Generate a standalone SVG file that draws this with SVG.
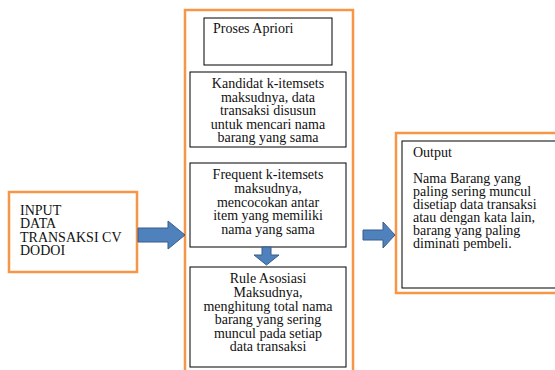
<svg xmlns="http://www.w3.org/2000/svg" width="555" height="370" viewBox="0 0 555 370">
<style>
.orange{fill:#fff;stroke:#F79646;stroke-width:2.5}
.box{fill:#fff;stroke:#000;stroke-width:1}
.t{font-family:"Liberation Serif","Times New Roman",serif;font-size:14px;fill:#111}
.c{text-anchor:middle}
.arrow{fill:#4F81BD;stroke:#385D8A;stroke-width:1}
</style>
<rect width="555" height="370" fill="#fff"/>
<g id="input">
<rect class="orange" x="9" y="192" width="128" height="80"/>
<text class="t" x="20" y="215">INPUT</text>
<text class="t" x="20" y="228">DATA</text>
<text class="t" x="20" y="242">TRANSAKSI CV</text>
<text class="t" x="20" y="255">DODOI</text>
</g>
<g id="proses">
<rect class="orange" x="185" y="10" width="168" height="375"/>
</g>
<g id="apriori">
<rect class="box" x="204" y="18" width="128" height="47"/>
<text class="t" x="213" y="33">Proses Apriori</text>
</g>
<g id="kandidat">
<rect class="box" x="190" y="72" width="156" height="75"/>
<text class="t c" x="268" y="88">Kandidat k-itemsets</text>
<text class="t c" x="268" y="102">maksudnya, data</text>
<text class="t c" x="268" y="115">transaksi disusun</text>
<text class="t c" x="268" y="129">untuk mencari nama</text>
<text class="t c" x="268" y="142">barang yang sama</text>
</g>
<g id="frequent">
<rect class="box" x="190" y="163" width="156" height="84"/>
<text class="t c" x="268" y="179">Frequent k-itemsets</text>
<text class="t c" x="268" y="193">maksudnya,</text>
<text class="t c" x="268" y="207">mencocokan antar</text>
<text class="t c" x="268" y="220">item yang memiliki</text>
<text class="t c" x="268" y="234">nama yang sama</text>
</g>
<g id="rule">
<rect class="box" x="190" y="267" width="156" height="100"/>
<text class="t c" x="268" y="283">Rule Asosiasi</text>
<text class="t c" x="268" y="297">Maksudnya,</text>
<text class="t c" x="268" y="311">menghitung total nama</text>
<text class="t c" x="268" y="324">barang yang sering</text>
<text class="t c" x="268" y="338">muncul pada setiap</text>
<text class="t c" x="268" y="351">data transaksi</text>
</g>
<g id="output">
<rect class="orange" x="396" y="133" width="170" height="160"/>
<rect class="box" x="402" y="141" width="170" height="147"/>
<text class="t" x="413" y="157">Output</text>
<text class="t" x="413" y="183">Nama Barang yang</text>
<text class="t" x="413" y="196">paling sering muncul</text>
<text class="t" x="413" y="209">disetiap data transaksi</text>
<text class="t" x="413" y="222">atau dengan kata lain,</text>
<text class="t" x="413" y="235">barang yang paling</text>
<text class="t" x="413" y="248">diminati pembeli.</text>
</g>
<g id="connectors">
<path class="arrow" d="M138,228 H168 V221 L185,235 L168,249 V242 H138 Z"/>
<path class="arrow" d="M262,247 H271 V255 H279 L266.5,265 L254,255 H262 Z"/>
<path class="arrow" d="M363,230 H383 V222 L395,235 L383,248 V240 H363 Z"/>
</g>
</svg>
